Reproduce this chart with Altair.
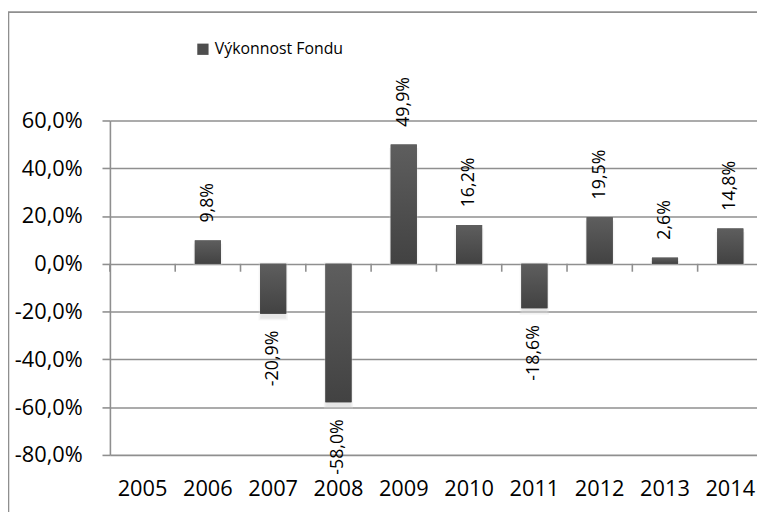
import altair as alt
import pandas as pd

# ---- data ----
years = ["2005", "2006", "2007", "2008", "2009", "2010", "2011", "2012", "2013", "2014"]
values_pct = [None, 9.8, -20.9, -58.0, 49.9, 16.2, -18.6, 19.5, 2.6, 14.8]
series_name = "Výkonnost Fondu"
y_ticks = [-0.8, -0.6, -0.4, -0.2, 0.0, 0.2, 0.4, 0.6]

FONT = "Open Sans"
GRID = "#8f8f8f"
LINE_W = 1.6


def cz_pct(v):
    return f"{v:.1f}%".replace(".", ",")


df = pd.DataFrame({
    "year": years,
    "value": [None if v is None else v / 100 for v in values_pct],
    "label": ["" if v is None else cz_pct(v) for v in values_pct],
    "series": series_name,
})
df_valid = df[df["value"].notna()]
df_years = pd.DataFrame({"year": years})

W_RANGE = 660
PLOT_H = 338
PAD_INNER = 0.6
PAD_OUTER = 0.3
STEP = W_RANGE / (len(years) - PAD_INNER + 2 * PAD_OUTER)
HALF_GAP = PAD_INNER * STEP / 2  # distance from band start back to the band boundary

xscale = alt.Scale(domain=years, paddingInner=PAD_INNER, paddingOuter=PAD_OUTER, range=[0, W_RANGE])
yscale = alt.Scale(domain=[-0.8, 0.6], nice=False, zero=False)

label_expr = "(datum.value < 0 ? '-' : '') + replace(format(abs(datum.value), '.1%'), '.', ',')"

x_axis = alt.Axis(
    orient="bottom", domain=False, ticks=False, grid=False, labelAngle=0,
    labelFont=FONT, labelFontSize=22, labelColor="#000000", labelPadding=24,
)
y_axis = alt.Axis(
    values=y_ticks, labelExpr=label_expr, labelFont=FONT, labelFontSize=22,
    labelColor="#000000", labelPadding=20, tickSize=8, tickColor=GRID, tickWidth=LINE_W,
    domainColor=GRID, domainWidth=LINE_W, gridColor=GRID, grid=True, gridWidth=LINE_W,
)

X = alt.X("year:N", scale=xscale, title=None, axis=x_axis)
Y = alt.Y("value:Q", scale=yscale, title=None, axis=y_axis)

base = alt.Chart(df_valid)

shadow = base.mark_bar(
    color="#d2d2d2", opacity=0.55, yOffset=5, stroke="#dcdcdc", strokeWidth=3, strokeOpacity=0.5
).encode(x=X, y=Y, y2=alt.datum(0))

bars = base.mark_bar().encode(
    x=X, y=Y, y2=alt.datum(0),
    color=alt.Color(
        "series:N", scale=alt.Scale(range=["#4e4e4e"]),
        legend=alt.Legend(
            title=None, orient="none", legendX=86, legendY=-80, symbolType="square",
            symbolSize=130, symbolStrokeWidth=0, labelFont=FONT, labelFontSize=16,
            labelColor="#000000", labelOffset=4,
        ),
    ),
)

grad = base.mark_bar(
    color=alt.Gradient(
        gradient="linear",
        stops=[alt.GradientStop(color="#5e5e5e", offset=0), alt.GradientStop(color="#424242", offset=1)],
        x1=0, x2=0, y1=0, y2=1,
    )
).encode(x=X, y=Y, y2=alt.datum(0))

# small category ticks hanging below the zero line, at the band boundaries
zero_ticks = alt.Chart(df_years).mark_rule(
    color=GRID, strokeWidth=LINE_W, xOffset=-HALF_GAP, y2Offset=8
).encode(
    x=alt.X("year:N", scale=xscale, title=None, axis=x_axis, bandPosition=0),
    y=alt.Y("z:Q", scale=yscale, title=None, axis=y_axis),
    y2=alt.Y2("z:Q"),
).transform_calculate(z="0")

pos_labels = base.transform_filter("datum.value > 0").mark_text(
    angle=270, align="left", baseline="middle", dx=18, font=FONT, fontSize=18, color="#000000"
).encode(x=X, y=Y, text="label:N")

neg_labels = base.transform_filter("datum.value < 0").mark_text(
    angle=270, align="right", baseline="middle", dx=-17, font=FONT, fontSize=18, color="#000000"
).encode(x=X, y=Y, text="label:N")

border = alt.Chart(pd.DataFrame({"k": [0]})).mark_rect(
    fillOpacity=0, stroke=GRID, strokeWidth=LINE_W
).encode(
    x=alt.value(-102.5), x2=alt.value(720), y=alt.value(-109.5), y2=alt.value(460)
)

chart = alt.layer(
    shadow, bars, grad, zero_ticks, pos_labels, neg_labels, border
).properties(
    width=654, height=PLOT_H,
    autosize=alt.AutoSizeParams(type="none"),
    padding={"left": 103, "top": 111, "right": 0, "bottom": 55},
    background="white",
).configure_view(stroke=None)

chart.save("out.html", embed_options={"renderer": "svg", "actions": False})
